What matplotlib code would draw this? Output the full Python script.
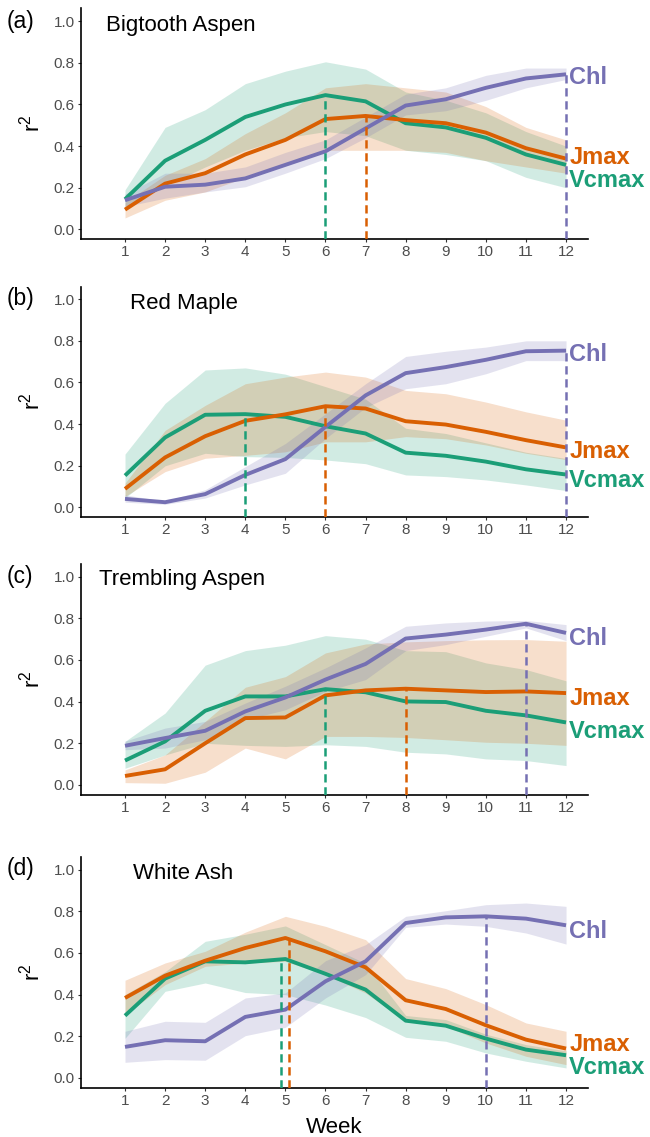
import matplotlib
matplotlib.use("Agg")
import matplotlib.pyplot as plt
import numpy as np

plt.rcParams['font.family'] = ['Liberation Sans', 'DejaVu Sans']
plt.rcParams['mathtext.fontset'] = 'custom'
plt.rcParams['mathtext.rm'] = 'Liberation Sans'

weeks = list(range(1, 13))
panel_tags = ["(a)", "(b)", "(c)", "(d)"]
species = ["Bigtooth Aspen", "Red Maple", "Trembling Aspen", "White Ash"]
series_names = ["Vcmax", "Jmax", "Chl"]

# ---- Bigtooth Aspen ----
a_vcmax = [0.145, 0.33, 0.43, 0.54, 0.60, 0.645, 0.615, 0.51, 0.49, 0.44, 0.36, 0.31]
a_vcmax_hi = [0.19, 0.49, 0.575, 0.70, 0.76, 0.805, 0.77, 0.66, 0.62, 0.56, 0.47, 0.40]
a_vcmax_lo = [0.11, 0.21, 0.30, 0.38, 0.44, 0.47, 0.45, 0.38, 0.36, 0.33, 0.25, 0.20]
a_jmax = [0.095, 0.22, 0.27, 0.36, 0.43, 0.53, 0.545, 0.525, 0.51, 0.465, 0.39, 0.34]
a_jmax_hi = [0.13, 0.26, 0.34, 0.46, 0.56, 0.68, 0.70, 0.68, 0.66, 0.59, 0.49, 0.43]
a_jmax_lo = [0.055, 0.14, 0.18, 0.25, 0.32, 0.38, 0.38, 0.38, 0.37, 0.33, 0.30, 0.27]
a_chl = [0.14, 0.205, 0.215, 0.245, 0.31, 0.375, 0.485, 0.595, 0.625, 0.68, 0.725, 0.745]
a_chl_hi = [0.17, 0.27, 0.27, 0.30, 0.37, 0.43, 0.54, 0.65, 0.68, 0.74, 0.775, 0.775]
a_chl_lo = [0.11, 0.15, 0.18, 0.205, 0.27, 0.34, 0.44, 0.55, 0.57, 0.62, 0.68, 0.72]

# ---- Red Maple ----
b_vcmax = [0.153, 0.336, 0.445, 0.448, 0.435, 0.39, 0.355, 0.263, 0.248, 0.22, 0.183, 0.158]
b_vcmax_hi = [0.256, 0.50, 0.66, 0.67, 0.64, 0.58, 0.52, 0.38, 0.355, 0.31, 0.265, 0.235]
b_vcmax_lo = [0.045, 0.20, 0.26, 0.244, 0.24, 0.228, 0.21, 0.156, 0.148, 0.132, 0.108, 0.081]
b_jmax = [0.089, 0.24, 0.342, 0.416, 0.447, 0.486, 0.475, 0.414, 0.398, 0.363, 0.323, 0.288]
b_jmax_hi = [0.116, 0.37, 0.49, 0.594, 0.626, 0.65, 0.626, 0.562, 0.546, 0.506, 0.459, 0.419]
b_jmax_lo = [0.053, 0.172, 0.236, 0.25, 0.267, 0.315, 0.315, 0.34, 0.33, 0.30, 0.26, 0.23]
b_chl = [0.041, 0.025, 0.064, 0.156, 0.232, 0.387, 0.538, 0.645, 0.674, 0.709, 0.75, 0.753]
b_chl_hi = [0.06, 0.03, 0.085, 0.196, 0.307, 0.45, 0.594, 0.725, 0.75, 0.77, 0.80, 0.80]
b_chl_lo = [0.025, 0.015, 0.045, 0.108, 0.164, 0.331, 0.48, 0.57, 0.594, 0.642, 0.705, 0.705]

# ---- Trembling Aspen ----
c_vcmax = [0.117, 0.209, 0.356, 0.425, 0.425, 0.46, 0.445, 0.401, 0.398, 0.356, 0.334, 0.30]
c_vcmax_hi = [0.209, 0.345, 0.575, 0.645, 0.671, 0.717, 0.70, 0.645, 0.64, 0.586, 0.554, 0.50]
c_vcmax_lo = [0.08, 0.144, 0.20, 0.19, 0.185, 0.193, 0.185, 0.157, 0.149, 0.125, 0.117, 0.093]
c_jmax = [0.043, 0.075, 0.20, 0.321, 0.324, 0.43, 0.454, 0.462, 0.454, 0.446, 0.449, 0.441]
c_jmax_hi = [0.072, 0.144, 0.305, 0.469, 0.52, 0.634, 0.677, 0.687, 0.693, 0.697, 0.698, 0.69]
c_jmax_lo = [0.011, 0.008, 0.061, 0.177, 0.125, 0.233, 0.233, 0.228, 0.217, 0.205, 0.20, 0.19]
c_chl = [0.188, 0.225, 0.26, 0.353, 0.42, 0.506, 0.581, 0.703, 0.722, 0.746, 0.774, 0.73]
c_chl_hi = [0.21, 0.273, 0.305, 0.393, 0.474, 0.562, 0.658, 0.762, 0.778, 0.787, 0.79, 0.77]
c_chl_lo = [0.169, 0.177, 0.217, 0.313, 0.361, 0.449, 0.506, 0.645, 0.674, 0.714, 0.754, 0.693]

# ---- White Ash ----
d_vcmax = [0.299, 0.477, 0.56, 0.555, 0.571, 0.50, 0.424, 0.275, 0.251, 0.189, 0.136, 0.109]
d_vcmax_hi = [0.40, 0.51, 0.656, 0.69, 0.73, 0.64, 0.55, 0.30, 0.28, 0.21, 0.16, 0.13]
d_vcmax_lo = [0.19, 0.416, 0.456, 0.41, 0.40, 0.35, 0.29, 0.195, 0.176, 0.12, 0.08, 0.048]
d_jmax = [0.384, 0.491, 0.563, 0.624, 0.672, 0.608, 0.531, 0.373, 0.331, 0.253, 0.184, 0.141]
d_jmax_hi = [0.469, 0.552, 0.608, 0.70, 0.776, 0.728, 0.664, 0.477, 0.429, 0.352, 0.264, 0.224]
d_jmax_lo = [0.304, 0.448, 0.536, 0.552, 0.56, 0.496, 0.408, 0.272, 0.248, 0.168, 0.104, 0.064]
d_chl = [0.149, 0.181, 0.176, 0.293, 0.328, 0.464, 0.56, 0.744, 0.771, 0.776, 0.765, 0.733]
d_chl_hi = [0.224, 0.272, 0.267, 0.384, 0.408, 0.563, 0.64, 0.776, 0.803, 0.832, 0.84, 0.824]
d_chl_lo = [0.075, 0.088, 0.085, 0.203, 0.243, 0.384, 0.496, 0.723, 0.739, 0.728, 0.696, 0.643]

# peak weeks (dashed markers) per panel: Vcmax, Jmax, Chl
peak_weeks = [[6, 7, 12], [4, 6, 12], [6, 8, 11], [5, 5, 10]]
# horizontal nudge of peak markers (to avoid overlap)
peak_nudge = [[0, 0, 0], [0, 0, 0], [0, 0, 0], [-0.1, 0.08, 0]]

panels = [
    [(a_vcmax, a_vcmax_lo, a_vcmax_hi), (a_jmax, a_jmax_lo, a_jmax_hi), (a_chl, a_chl_lo, a_chl_hi)],
    [(b_vcmax, b_vcmax_lo, b_vcmax_hi), (b_jmax, b_jmax_lo, b_jmax_hi), (b_chl, b_chl_lo, b_chl_hi)],
    [(c_vcmax, c_vcmax_lo, c_vcmax_hi), (c_jmax, c_jmax_lo, c_jmax_hi), (c_chl, c_chl_lo, c_chl_hi)],
    [(d_vcmax, d_vcmax_lo, d_vcmax_hi), (d_jmax, d_jmax_lo, d_jmax_hi), (d_chl, d_chl_lo, d_chl_hi)],
]

colors = ["#1B9E77", "#D95F02", "#7570B3"]

# layout
label_cap_y = [[0.243, 0.352, 0.738], [0.140, 0.276, 0.745], [0.265, 0.425, 0.713], [0.059, 0.168, 0.713]]
title_pos = [(0.526, 0.955), (1.125, 0.952), (0.345, 0.96), (1.187, 0.955)]
tag_y_px = [21.5, 299, 577, 869]
FIG_W, FIG_H = 650, 1137
ax_left = 80.7 / FIG_W
ax_width = (588.3 - 80.7) / FIG_W
ax_h = 230.5 / FIG_H
ax_bottoms_px = [239, 517, 794.5, 1087.5]
YLIM = (-0.046, 1.061)
XLIM = (-0.105, 12.555)

fig = plt.figure(figsize=(FIG_W / 100, FIG_H / 100), dpi=100)

for i, series in enumerate(panels):
    ax = fig.add_axes([ax_left, 1 - ax_bottoms_px[i] / FIG_H, ax_width, ax_h])
    for (vals, lo, hi), col in zip(series, colors):
        ax.fill_between(weeks, lo, hi, color=col, alpha=0.2, linewidth=0, zorder=1)
    for (vals, lo, hi), col in zip(series, colors):
        ax.plot(weeks, vals, color=col, linewidth=2.8, solid_joinstyle='round',
                solid_capstyle='butt', zorder=3)
    for j, ((vals, lo, hi), col) in enumerate(zip(series, colors)):
        pw = peak_weeks[i][j]
        top = vals[weeks.index(pw)]
        x = pw + peak_nudge[i][j]
        ax.plot([x, x], [YLIM[0], top], color=col, linewidth=1.8,
                linestyle=(0, (3.3, 1.9)), zorder=4, solid_capstyle='butt',
                dash_capstyle='butt')
    cap_half = 0.040
    for j, (name, col) in enumerate(zip(series_names, colors)):
        ax.text(12.08, label_cap_y[i][j] - cap_half, name, color=col, fontsize=17,
                fontweight='bold', ha='left', va='baseline', zorder=5, clip_on=False)
    ax.text(title_pos[i][0], title_pos[i][1], species[i], fontsize=16,
            ha='left', va='baseline', color='black')

    ax.set_xlim(*XLIM)
    ax.set_ylim(*YLIM)
    ax.set_xticks(weeks)
    ax.set_xticklabels([str(w) for w in weeks])
    ax.set_yticks([0.0, 0.2, 0.4, 0.6, 0.8, 1.0])
    ax.set_yticklabels(["0.0", "0.2", "0.4", "0.6", "0.8", "1.0"])
    ax.tick_params(axis='both', labelsize=11, labelcolor='#4D4D4D', color='#333333',
                   length=2.4, width=0.8, pad=2)
    for s in ['top', 'right']:
        ax.spines[s].set_visible(False)
    for s in ['left', 'bottom']:
        ax.spines[s].set_linewidth(1.2)
        ax.spines[s].set_color('black')
    ax.set_ylabel(r'$\mathregular{r^2}$', fontsize=16, color='black')
    ax.yaxis.set_label_coords(-0.072, 0.5)

    fig.text(7 / FIG_W, 1 - tag_y_px[i] / FIG_H, panel_tags[i], fontsize=16.5,
             ha='left', va='center', color='black')

fig.text(ax_left + ax_width / 2, 1 - 1133.3 / FIG_H, "Week", fontsize=16,
         ha='center', va='baseline', color='black')

fig.savefig("out.png", dpi=100)
